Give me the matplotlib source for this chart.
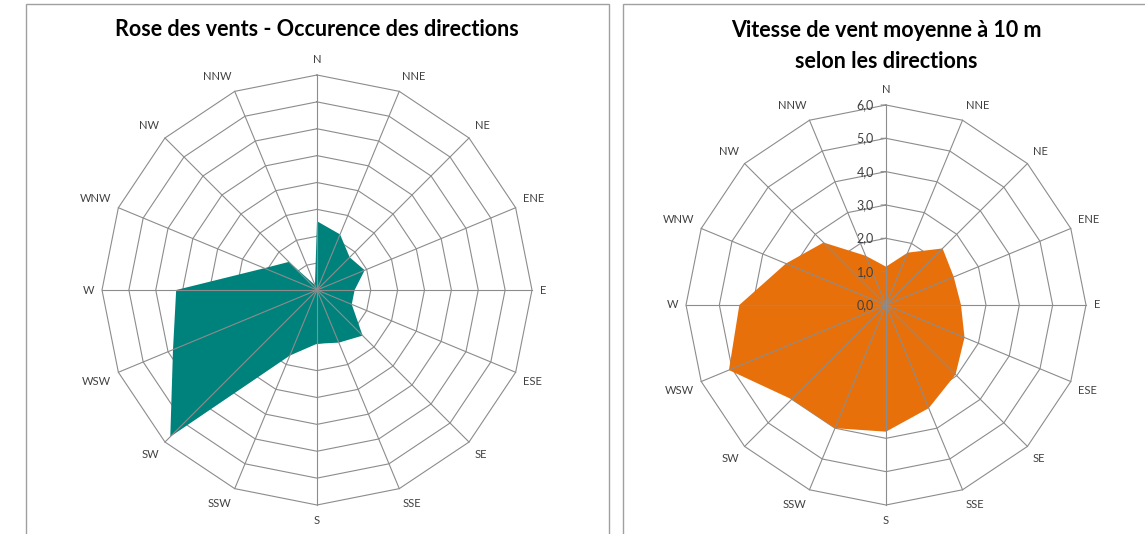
import numpy as np
import matplotlib.pyplot as plt
from matplotlib.patches import Rectangle

plt.rcParams['font.family'] = ['Lato', 'DejaVu Sans']

# directions (clockwise from north)
directions = ['N', 'NNE', 'NE', 'ENE', 'E', 'ESE', 'SE', 'SSE',
              'S', 'SSW', 'SW', 'WSW', 'W', 'WNW', 'NW', 'NNW']

# occurrence of each direction (%)
occurrence = [6.4, 5.6, 4.3, 4.8, 3.5, 3.5, 6.0, 5.3,
              5.0, 6.6, 19.3, 14.5, 13.1, 5.3, 3.7, 0.5]
occ_rings = [2.5, 5.0, 7.5, 10.0, 12.5, 15.0, 17.5, 20.0]

# mean wind speed at 10 m (m/s) per direction
speed = [1.15, 1.7, 2.4, 2.2, 2.25, 2.55, 2.95, 3.35,
         3.8, 4.0, 4.0, 5.1, 4.4, 3.25, 2.65, 1.6]
speed_rings = [1.0, 2.0, 3.0, 4.0, 5.0, 6.0]
speed_ticks = [0.0, 1.0, 2.0, 3.0, 4.0, 5.0, 6.0]
speed_tick_labels = ['0,0', '1,0', '2,0', '3,0', '4,0', '5,0', '6,0']

grid_col = '#8c8c8c'
W, H = 1145, 534


def radar(ax, values, color, rings, padx, pady):
    n = len(directions)
    theta = np.deg2rad(np.arange(n) * 360.0 / n)
    closed = np.append(theta, theta[0])
    rmax = rings[-1]
    ax.set_theta_zero_location('N')
    ax.set_theta_direction(-1)
    ax.grid(False)
    ax.spines['polar'].set_visible(False)
    # polygon rings under the fill
    for r in rings:
        ax.plot(closed, [r] * len(closed), color=grid_col, lw=0.8, zorder=1, clip_on=False)
    ax.fill(closed, np.append(values, values[0]), color=color, lw=0, zorder=2)
    # spokes on top
    for t in theta:
        ax.plot([t, t], [0, rmax], color=grid_col, lw=0.8, zorder=3, clip_on=False)
    ax.set_xticks([])
    ax.set_yticks([])
    ax.set_ylim(0, rmax)
    for t, lab in zip(theta, directions):
        s, c = np.sin(t), np.cos(t)
        ha = 'left' if s > 0.1 else 'right' if s < -0.1 else 'center'
        va = 'bottom' if c > 0.1 else 'top' if c < -0.1 else 'center'
        ax.annotate(lab, xy=(t, rmax), xytext=(padx * s, pady * c),
                    textcoords='offset pixels', ha=ha, va=va,
                    fontsize=8, color='#404040', annotation_clip=False)


def polar_box(cx, cy, r):
    # axes rectangle (figure fraction) for a rose centred at pixel (cx, cy)
    return [(cx - r) / W, (H - cy - r) / H, 2 * r / W, 2 * r / H]


fig = plt.figure(figsize=(W / 100, H / 100), dpi=100)

# panel frames
fig.patches.append(Rectangle((26 / W, -0.02), 583 / W, 1.02 - 4 / H,
                             transform=fig.transFigure, fill=False,
                             edgecolor='#a0a0a0', lw=1))
fig.patches.append(Rectangle((623 / W, -0.02), 0.5, 1.02 - 4 / H,
                             transform=fig.transFigure, fill=False,
                             edgecolor='#a0a0a0', lw=1))

ax1 = fig.add_axes(polar_box(317, 290, 215), projection='polar')
radar(ax1, occurrence, '#00827c', occ_rings, 8, 10)

ax2 = fig.add_axes(polar_box(886, 305, 200), projection='polar')
radar(ax2, speed, '#e8700a', speed_rings, 8, 10)
for r, lab in zip(speed_ticks, speed_tick_labels):
    ax2.annotate('', xy=(0, r), xytext=(-5, 0), textcoords='offset pixels',
                 arrowprops=dict(arrowstyle='-', color=grid_col, lw=0.8,
                                 shrinkA=0, shrinkB=0))
    ax2.annotate(lab, xy=(0, r), xytext=(-12, 0), textcoords='offset pixels',
                 ha='right', va='center', fontsize=9, color='#404040')

fig.text(317 / W, 1 - 30 / H, 'Rose des vents - Occurence des directions',
         ha='center', va='center', fontsize=15.5, fontweight='bold')
fig.text(886 / W, 1 - 46 / H, 'Vitesse de vent moyenne à 10 m\nselon les directions',
         ha='center', va='center', fontsize=15.5, fontweight='bold', linespacing=1.6)

fig.savefig('out.png', dpi=100, facecolor='white')
